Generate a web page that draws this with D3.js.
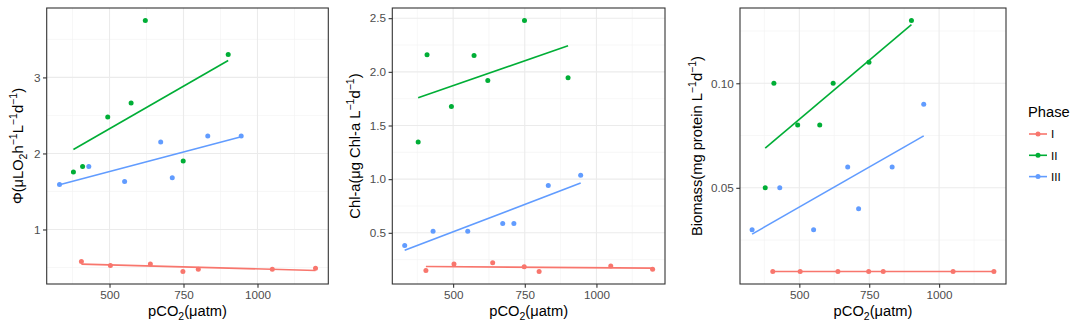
<!DOCTYPE html>
<html><head><meta charset="utf-8">
<script src="https://cdn.jsdelivr.net/npm/d3@7"></script>
<style>body{margin:0;background:#fff;} text{font-family:"Liberation Sans",Arial,sans-serif;}</style>
</head><body><svg id="c" width="1074" height="324"></svg>
<script>
const phases = ["I","II","III"];
const colors = ["#F8766D","#00AE36","#619CFF"];
const pco2_I   = [405, 503, 638, 748, 800, 1050, 1196];
const pco2_II  = [378, 409, 494, 573, 621, 749, 901];
const pco2_III = [331, 430, 551, 673, 712, 832, 945];
const phi_I   = [0.579, 0.526, 0.547, 0.448, 0.478, 0.478, 0.491];
const phi_II  = [1.757, 1.83, 2.478, 2.665, 3.748, 1.9, 3.3];
const phi_III = [1.59, 1.83, 1.63, 2.15, 1.68, 2.23, 2.23];
const chla_I   = [0.15, 0.21, 0.22, 0.184, 0.14, 0.19, 0.16];
const chla_II  = [1.347, 2.159, 1.678, 2.153, 1.92, 2.478, 1.945];
const chla_III = [0.382, 0.515, 0.515, 0.587, 0.587, 0.94, 1.036];
const bio_I   = [0.01, 0.01, 0.01, 0.01, 0.01, 0.01, 0.01];
const bio_II  = [0.05, 0.10, 0.08, 0.08, 0.10, 0.11, 0.13];
const bio_III = [0.03, 0.05, 0.03, 0.06, 0.04, 0.06, 0.09];
const xTicks = [500, 750, 1000];
const xMinor = [375, 625, 875, 1125];
const phiTicks = [1, 2, 3], phiMinor = [0.5, 1.5, 2.5, 3.5];
const chlaTicks = [0.5, 1.0, 1.5, 2.0, 2.5], chlaMinor = [0.25, 0.75, 1.25, 1.75, 2.25];
const bioTicks = [0.05, 0.10], bioMinor = [0.025, 0.075, 0.125];

const xs = [pco2_I, pco2_II, pco2_III];
const panels = [
  {ys:[phi_I,phi_II,phi_III], ticks:phiTicks, minor:phiMinor, fmt:d3.format("d"),
   box:[46.7,328.3,8,284], tx:18, title:[["Φ(μLO",0],["2",-1],["h",0],["−1",1],["L",0],["−1",1],["d",0],["−1",1],[")",0]]},
  {ys:[chla_I,chla_II,chla_III], ticks:chlaTicks, minor:chlaMinor, fmt:d3.format(".1f"),
   box:[392.3,665,8,284], tx:355, title:[["Chl-a(μg Chl-a L",0],["−1",1],["d",0],["−1",1],[")",0]]},
  {ys:[bio_I,bio_II,bio_III], ticks:bioTicks, minor:bioMinor, fmt:d3.format(".2f"),
   box:[740,1006,8,284], tx:697, title:[["Biomass(mg protein L",0],["−1",1],["d",0],["−1",1],[")",0]]}
];
const svg = d3.select("#c");
function pad(ext){const s=ext[1]-ext[0];return [ext[0]-0.05*s, ext[1]+0.05*s];}
function lm(x,y){const mx=d3.mean(x),my=d3.mean(y);let sxy=0,sxx=0;x.forEach((v,i)=>{sxy+=(v-mx)*(y[i]-my);sxx+=(v-mx)*(v-mx);});const b=sxy/sxx;return v=>my+b*(v-mx);}
function addRich(t, parts, size){
  let cur=0;
  parts.forEach(([s,k])=>{
    const target = k>0 ? -size*0.38 : (k<0 ? size*0.25 : 0);
    const ts=t.append("tspan").text(s).attr("dy",target-cur);
    cur=target;
    if(k!==0) ts.attr("font-size",size*0.72);
  });
}
const allX = [].concat(...xs);
panels.forEach(p=>{
  const [L,R,T,B]=p.box;
  const x=d3.scaleLinear().domain(pad(d3.extent(allX))).range([L,R]);
  const allY=[].concat(...p.ys);
  const y=d3.scaleLinear().domain(pad(d3.extent(allY))).range([B,T]);
  const g=svg.append("g");
  g.append("rect").attr("x",L).attr("y",T).attr("width",R-L).attr("height",B-T).attr("fill","#fff");
  g.selectAll(".xm").data(xMinor).join("line").attr("x1",d=>x(d)).attr("x2",d=>x(d)).attr("y1",T).attr("y2",B).attr("stroke","#F2F2F2").attr("stroke-width",0.6);
  g.selectAll(".ym").data(p.minor.filter(d=>y(d)>T&&y(d)<B)).join("line").attr("y1",d=>y(d)).attr("y2",d=>y(d)).attr("x1",L).attr("x2",R).attr("stroke","#F2F2F2").attr("stroke-width",0.6);
  g.selectAll(".xM").data(xTicks).join("line").attr("x1",d=>x(d)).attr("x2",d=>x(d)).attr("y1",T).attr("y2",B).attr("stroke","#EBEBEB").attr("stroke-width",1.1);
  g.selectAll(".yM").data(p.ticks).join("line").attr("y1",d=>y(d)).attr("y2",d=>y(d)).attr("x1",L).attr("x2",R).attr("stroke","#EBEBEB").attr("stroke-width",1.1);
  p.ys.forEach((yy,i)=>{
    const f=lm(xs[i],yy); const e=d3.extent(xs[i]);
    g.append("line").attr("x1",x(e[0])).attr("x2",x(e[1])).attr("y1",y(f(e[0]))).attr("y2",y(f(e[1])))
      .attr("stroke",colors[i]).attr("stroke-width",1.6);
    g.selectAll(null).data(yy.map((v,j)=>[xs[i][j],v])).join("circle")
      .attr("cx",d=>x(d[0])).attr("cy",d=>y(d[1])).attr("r",2.5).attr("fill",colors[i]);
  });
  g.append("rect").attr("x",L).attr("y",T).attr("width",R-L).attr("height",B-T).attr("fill","none").attr("stroke","#333").attr("stroke-width",1.1);
  const xa=svg.append("g").attr("transform",`translate(0,${B})`).call(d3.axisBottom(x).tickValues(xTicks).tickSize(3.7).tickPadding(2.5).tickFormat(d3.format("d")));
  const ya=svg.append("g").attr("transform",`translate(${L},0)`).call(d3.axisLeft(y).tickValues(p.ticks).tickSize(3.7).tickPadding(2.5).tickFormat(p.fmt));
  [xa,ya].forEach(a=>{a.select(".domain").remove();a.selectAll("line").attr("stroke","#333").attr("stroke-width",1.1);
    a.selectAll("text").attr("fill","#4D4D4D").attr("font-size",11.7).attr("font-family","Liberation Sans, Arial, sans-serif");});
  const xt=svg.append("text").attr("x",(L+R)/2).attr("y",316).attr("text-anchor","middle").attr("font-size",14.7).attr("fill","#000");
  xt.append("tspan").text("pCO");
  xt.append("tspan").attr("font-size",10.5).attr("dy",3.5).text("2");
  xt.append("tspan").attr("dy",-3.5).text("(μatm)");
  const yt=svg.append("text").attr("transform",`translate(${p.tx+5},${(T+B)/2}) rotate(-90)`).attr("text-anchor","middle").attr("font-size",14.7).attr("fill","#000");
  addRich(yt,p.title,14.7);
});
const lg=svg.append("g");
lg.append("text").attr("x",1028).attr("y",117).attr("font-size",14.7).attr("fill","#000").text("Phase");
phases.forEach((ph,i)=>{
  const yy=134+i*21.3;
  lg.append("line").attr("x1",1029).attr("x2",1047).attr("y1",yy).attr("y2",yy).attr("stroke",colors[i]).attr("stroke-width",1.6);
  lg.append("circle").attr("cx",1038).attr("cy",yy).attr("r",2.5).attr("fill",colors[i]);
  lg.append("text").attr("x",1051).attr("y",yy+4.2).attr("font-size",11.7).attr("fill","#000").text(ph);
});
</script></body></html>
